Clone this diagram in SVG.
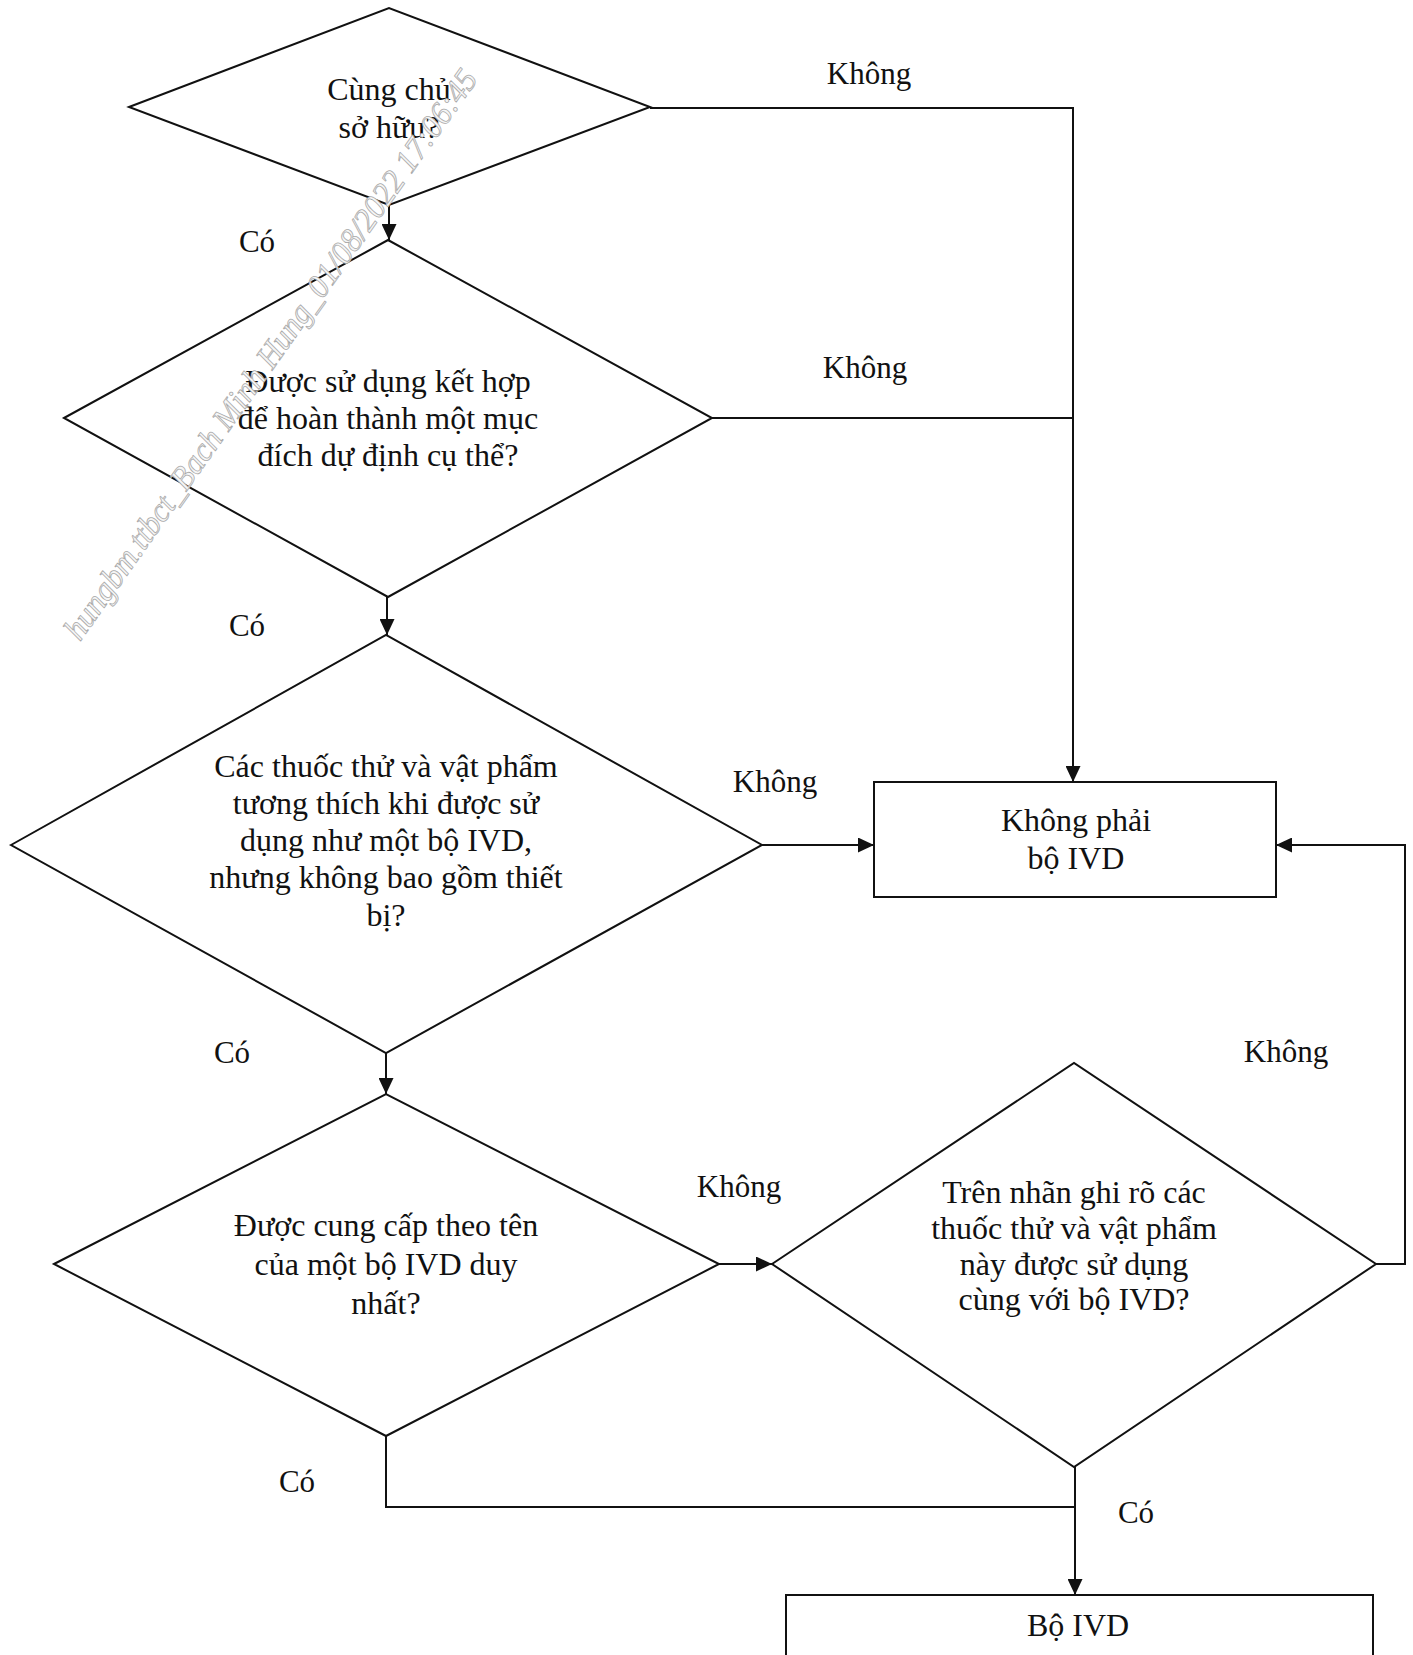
<svg xmlns="http://www.w3.org/2000/svg" width="1413" height="1655" viewBox="0 0 1413 1655">
<defs>
<marker id="arr" markerUnits="userSpaceOnUse" markerWidth="17" markerHeight="15" refX="16" refY="7.5" orient="auto">
<path d="M0,0 L16,7.5 L0,15 Z" fill="#111"/>
</marker>
<style>
.shape{fill:none;stroke:#111;stroke-width:2}
.ln{fill:none;stroke:#111;stroke-width:2}
.t{font-family:"Liberation Serif","Times New Roman",serif;font-size:32px;fill:#111;text-anchor:middle}
.lb{font-family:"Liberation Serif","Times New Roman",serif;font-size:31px;fill:#111;text-anchor:middle}
.wm{font-family:"Liberation Serif","Times New Roman",serif;font-style:italic;font-size:33px;fill:#f6f6f6;stroke:#a9a9a9;stroke-width:0.8}
</style>
</defs>
<rect width="1413" height="1655" fill="#fff"/>

<g id="connectors">
<path class="ln" d="M389,205 L389,240" marker-end="url(#arr)"/>
<path class="ln" d="M650,108 L1073,108 L1073,782" marker-end="url(#arr)"/>
<path class="ln" d="M712,418 L1073,418"/>
<path class="ln" d="M387,597 L387,635" marker-end="url(#arr)"/>
<path class="ln" d="M762,845 L874,845" stroke-width="3" marker-end="url(#arr)"/>
<path class="ln" d="M386,1053 L386,1094" marker-end="url(#arr)"/>
<path class="ln" d="M719,1264 L772,1264" stroke-width="3" marker-end="url(#arr)"/>
<path class="ln" d="M1376,1264 L1405,1264 L1405,845 L1276,845" stroke-width="2.5" marker-end="url(#arr)"/>
<path class="ln" d="M386,1436 L386,1507 L1075,1507"/>
<path class="ln" d="M1075,1467 L1075,1595" marker-end="url(#arr)"/>
<text class="lb" x="869" y="84">Không</text>
<text class="lb" x="257" y="252">Có</text>
<text class="lb" x="865" y="378">Không</text>
<text class="lb" x="247" y="636">Có</text>
<text class="lb" x="775" y="792">Không</text>
<text class="lb" x="232" y="1063">Có</text>
<text class="lb" x="739" y="1197">Không</text>
<text class="lb" x="1286" y="1062">Không</text>
<text class="lb" x="297" y="1492">Có</text>
<text class="lb" x="1136" y="1523">Có</text>
</g>

<g id="d1">
<polygon class="shape" points="129,107 389,8 650,107 389,205"/>
<text class="t" x="389" y="100">Cùng chủ</text>
<text class="t" x="389" y="138">sở hữu?</text>
</g>

<g id="d2">
<polygon class="shape" points="64,418 388,240 712,418 388,597"/>
<text class="t" x="388" y="392">Được sử dụng kết hợp</text>
<text class="t" x="388" y="429">để hoàn thành một mục</text>
<text class="t" x="388" y="466">đích dự định cụ thể?</text>
</g>

<g id="d3">
<polygon class="shape" points="11,845 386,635 762,845 386,1053"/>
<text class="t" x="386" y="777">Các thuốc thử và vật phẩm</text>
<text class="t" x="386" y="814">tương thích khi được sử</text>
<text class="t" x="386" y="851">dụng như một bộ IVD,</text>
<text class="t" x="386" y="888">nhưng không bao gồm thiết</text>
<text class="t" x="386" y="926">bị?</text>
</g>

<g id="d4">
<polygon class="shape" points="54,1264 386,1094 719,1264 386,1436"/>
<text class="t" x="386" y="1236">Được cung cấp theo tên</text>
<text class="t" x="386" y="1275">của một bộ IVD duy</text>
<text class="t" x="386" y="1314">nhất?</text>
</g>

<g id="d5">
<polygon class="shape" points="772,1264 1074,1063 1376,1264 1074,1467"/>
<text class="t" x="1074" y="1203">Trên nhãn ghi rõ các</text>
<text class="t" x="1074" y="1239">thuốc thử và vật phẩm</text>
<text class="t" x="1074" y="1275">này được sử dụng</text>
<text class="t" x="1074" y="1310">cùng với bộ IVD?</text>
</g>

<g id="notivd">
<rect class="shape" x="874" y="782" width="402" height="115"/>
<text class="t" x="1076" y="831">Không phải</text>
<text class="t" x="1076" y="869">bộ IVD</text>
</g>

<g id="ivd">
<rect class="shape" x="786" y="1595" width="587" height="80"/>
<text class="t" x="1078" y="1636">Bộ IVD</text>
</g>

<g id="watermark">
<text class="wm" x="0" y="0" transform="translate(80,642) rotate(-54.7)" textLength="690" lengthAdjust="spacingAndGlyphs">hungbm.ttbct_Bach Minh Hung_01/08/2022 17:06:45</text>
</g>
</svg>
